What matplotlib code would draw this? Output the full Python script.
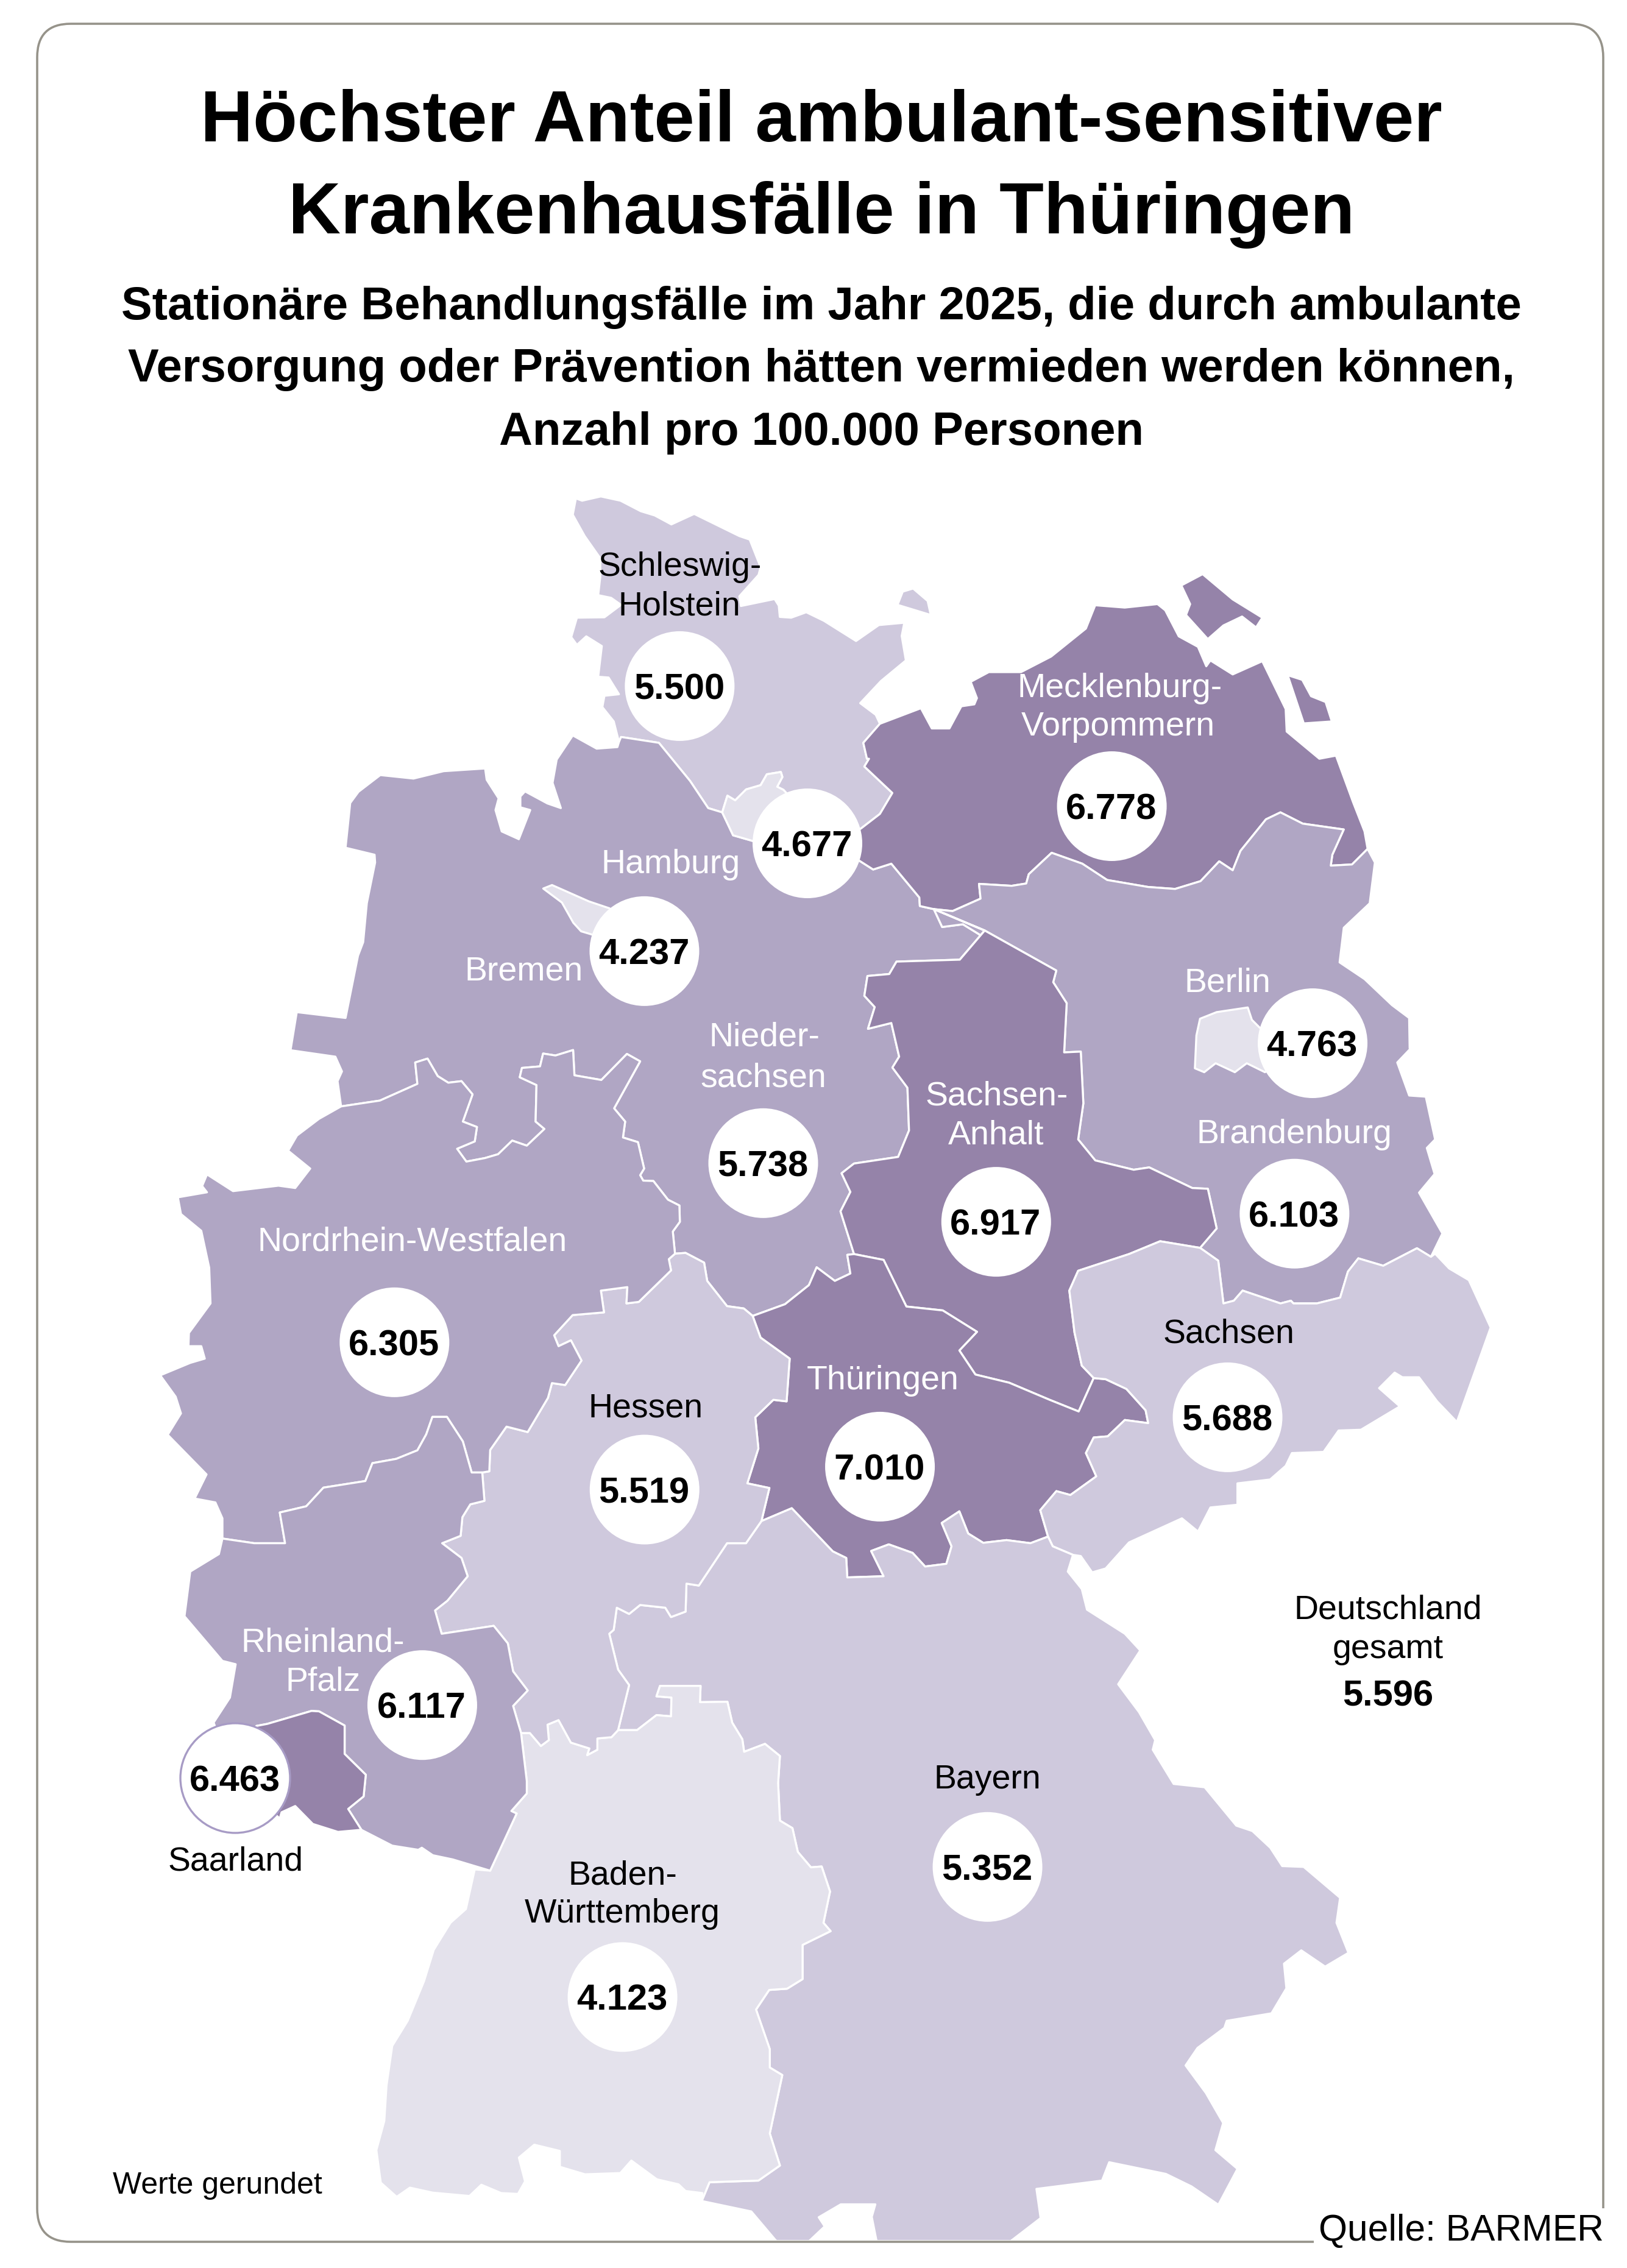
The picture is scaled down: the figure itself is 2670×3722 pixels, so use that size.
import matplotlib
matplotlib.use("Agg")
import matplotlib.pyplot as plt
from matplotlib.patches import Polygon, Circle, FancyBboxPatch, Rectangle

plt.rcParams['font.family'] = ['Liberation Sans', 'DejaVu Sans']

W, H = 2670, 3723
# measuring frames of the outline readings: origin x, origin y, scale x, scale y
FRAMES = {'A': (0, 750, 1.1745, 1.568), 'B': (1335, 750, 1.1745, 1.568),
          'C': (200, 1700, 1.3815, 1.568), 'D': (1135, 1700, 1.1745, 1.568),
          'E': (200, 2650, 1.3815, 1.461), 'F': (1135, 2650, 1.0215, 1.461)}

def P(frame, pts):
    ox, oy, sx, sy = FRAMES[frame]
    return [(ox + x / sx, oy + y / sy) for x, y in pts]

def R(chain):
    return chain[::-1]

# ---- shared state borders ----
SH_COAST = P('A', [(1193,735),(1183,682),(1161,645),(1165,616),(1193,612),(1173,569),(1153,567),(1160,488),(1130,463),(1112,485),(1101,465),(1112,415),(1165,414),(1197,382),(1178,364),(1153,357),(1157,310),(1157,262),(1127,205),(1104,150),(1110,108),(1122,114),(1158,103),(1196,114),(1235,141),(1262,152),(1294,175),(1338,148),(1425,205),(1445,214),(1466,285),(1462,305),(1425,360),(1428,385),(1493,367),(1501,384),(1503,413),(1525,415),(1554,401)]) + \
    P('B', [(20,423),(82,475),(126,434),(175,428),(170,462),(178,525),(130,578),(90,635),(120,665),(128,688)])
SH_MV = P('B', [(128,688),(96,737),(103,778),(107,778),(98,798),(152,866),(128,920),(92,957),(40,1000)])
HAM_SH = P('A', [(1392,916),(1402,873),(1417,885),(1438,857),(1466,846),(1478,818),(1505,812),(1508,825),(1498,850),(1510,858)]) + P('B', [(40,1000)])
HAM_NI = P('A', [(1392,916),(1413,975),(1452,990)]) + P('B', [(40,1000)])
NI_SH = P('A', [(1193,735),(1197,722),(1270,737),(1330,835),(1365,905),(1392,916)])
NI_COAST = P('A', [(1193,735),(1190,748),(1150,752),(1104,718),(1073,780),(1065,840),(1081,905),(1055,893),(1012,862),(1003,875),(1003,903),(1022,910),(1000,985),(967,965),(955,910),(961,880),(938,832),(935,803),(855,810),(797,829),(733,820),(691,863),(675,892),(666,1007),(722,1025),(723,1045),(707,1150),(700,1250),(690,1285),(666,1445),(572,1430),(560,1528)]) + \
    P('C', [(484,55),(499,93),(489,118),(497,183)])
NI_NW = P('C', [(497,183),(585,168),(670,125),(665,70),(693,60),(716,105),(740,122),(770,118),(795,152),(773,222),(805,236),(800,273),(760,292),(781,325),(823,316),(853,306),(885,271),(918,284),(958,241),(938,222),(940,128),(902,108),(907,84),(948,80),(955,47),(983,52),(1023,38),(1026,103),(1087,115),(1145,48),(1175,67),(1116,188),(1141,222),(1136,263),(1170,275),(1184,343),(1175,360),(1182,374),(1205,375),(1238,423),(1264,438),(1265,480),(1249,505),(1254,562)])
NI_HE = P('C', [(1254,562),(1278,560),(1320,585),(1327,632),(1372,697),(1410,703),(1430,722)])
NI_TH = P('D', [(118,722),(180,692),(226,643),(241,597),(276,632),(306,613),(300,565),(313,563)])
ST_NI = P('D', [(313,563),(287,453),(306,403),(289,355),(313,330),(398,313),(419,245),(416,135),(387,83),(400,55)]) + \
    P('B', [(150,1458),(105,1473),(118,1417),(98,1388),(104,1337),(146,1332),(160,1300),(282,1295),(330,1220)])
NI_BB = P('B', [(330,1220),(322,1232),(288,1204),(248,1211),(232,1165)])
NI_MV = P('B', [(232,1165),(205,1157),(204,1135),(150,1048),(115,1063),(88,1040),(40,1000)])
BB_MV = P('B', [(232,1165),(268,1170),(322,1138),(319,1100),(382,1105),(410,1099),(415,1075),(459,1020),(518,1048),(566,1090),(645,1108),(697,1113),(746,1093),(782,1042),(808,1065),(823,1015),(872,934),(900,916),(943,945),(1022,960),(1000,1025),(997,1053),(1038,1050),(1068,1010)])
MV_COAST = P('B', [(128,688),(207,648),(228,700),(262,700),(285,643),(310,638),(315,622),(303,580),(338,555),(400,555),(458,515),(525,443),(543,383),(600,389),(663,380),(678,396),(704,463),(741,490),(757,540),(765,525),(808,561),(865,527),(910,650),(912,708),(975,778),(1007,770),(1040,890),(1062,965),(1068,1010)])
BB_EAST = P('B', [(1068,1010),(1082,1045),(1072,1150),(1022,1213),(1014,1302),(1062,1345),(1115,1412),(1148,1445),(1149,1523)]) + \
    P('D', [(1385,35),(1360,70),(1383,155),(1415,158),(1433,268),(1417,290),(1432,357),(1402,405),(1447,510),(1425,570)])
BB_SN = P('D', [(1425,570),(1398,548),(1333,593),(1285,574),(1265,608),(1250,675),(1205,690),(1160,690),(1155,683),(1135,690),(1062,657),(1045,683),(1025,690),(1015,580),(980,547)])
ST_BB = P('D', [(980,547),(1012,497),(995,395),(965,393),(882,340),(852,346),(778,322),(745,268),(755,175),(750,42),(718,44)]) + \
    P('B', [(488,1407),(462,1353),(468,1323),(330,1220)])
ST_TH = P('D', [(313,563),(370,578),(414,698),(484,708),(550,763),(516,811),(547,873),(612,894),(690,938),(746,968),(775,882)])
ST_SN = P('D', [(775,882),(752,850),(738,765),(728,657),(745,606),(843,563),(903,530),(980,547)])
HE_TH = P('C', [(1430,722),(1448,778),(1514,832),(1507,942),(1477,938),(1436,983),(1443,1063),(1418,1153),(1468,1165),(1450,1250)])
TH_BY = P('C', [(1450,1250)]) + P('D', [(193,1217),(272,1328),(298,1345),(300,1395),(370,1392),(346,1327),(380,1310),(426,1332),(450,1367),(491,1360),(501,1315),(482,1255),(516,1225),(533,1282),(562,1306),(607,1299),(653,1307),(687,1290)])
TH_SN = P('D', [(775,882),(798,885),(838,910),(875,965),(880,998),(835,990),(802,1032),(775,1035),(760,1075),(780,1135),(730,1183),(703,1173),(672,1222),(687,1290)])
SN_BY = P('D', [(687,1290),(696,1315),(735,1337)])
SN_OUTER = P('D', [(1425,570),(1433,562),(1460,600),(1498,630),(1540,752),(1475,995),(1437,942),(1402,880),(1370,880),(1355,868),(1325,908),(1365,955),(1290,1015),(1247,1017),(1218,1072),(1157,1075),(1145,1108),(1115,1143),(1052,1153),(1052,1208),(1000,1215),(976,1277),(945,1243),(843,1305),(798,1372),(772,1382),(750,1340),(735,1337)])
BY_OUTER = P('D', [(735,1337),(725,1380),(752,1425),(762,1478),(835,1540)]) + \
    P('F', [(752,87),(715,168),(750,235),(777,302),(773,325),(808,407),(860,415),(913,507),(940,520),(970,560),(990,604),(1026,606),(1087,680),(1081,740),(1101,812),(1062,845),(1022,806),(993,838),(997,897),(972,957),(897,975),(893,992),(848,1040),(828,1082),(862,1148),(891,1220),(878,1285),(915,1330),(883,1416),(838,1372),(795,1342),(700,1314),(688,1358),(578,1378),(585,1448),(535,1503),(310,1503),(302,1445),(308,1415),(250,1415),(213,1446),(223,1468),(197,1503),(142,1503),(100,1432),(17,1407)])
BW_BY = P('F', [(17,1407),(30,1362),(112,1358),(148,1322),(131,1245),(152,1105),(131,1087),(131,1043),(108,948),(130,901),(160,898),(186,875),(186,793),(233,760),(221,740),(232,665),(218,605),(200,607),(178,570),(169,513),(148,495),(145,405),(148,340),(123,311),(88,330),(85,300),(68,260),(60,210),(14,211),(15,172)]) + \
    P('E', [(1220,172),(1212,197),(1246,200),(1245,245),(1212,242),(1168,278),(1125,278)])
HE_BY = P('C', [(1450,1250),(1415,1307),(1372,1307),(1308,1416),(1280,1411),(1278,1483),(1245,1497),(1232,1473),(1175,1466),(1150,1489),(1122,1473),(1115,1530),(1105,1540)]) + \
    P('E', [(1125,133),(1150,170),(1125,278)])
HE_BW = P('E', [(1125,278),(1110,295),(1078,298),(1078,325),(1055,338),(1060,322),(1018,308),(990,254),(965,265),(968,302),(950,316),(925,285),(905,285)])
RP_BW = P('E', [(905,285),(918,400),(918,430),(883,472),(895,478),(835,615)])
BW_OUTER = P('E', [(835,615),(800,612),(780,707),(745,740),(707,805),(685,880),(648,975),(613,1035),(600,1130),(595,1215),(577,1285),(587,1363),(623,1397),(653,1375),(705,1387),(788,1395),(815,1368),(860,1388),(898,1390),(914,1360),(900,1303),(935,1272),(993,1287),(993,1325),(1050,1343),(1130,1340),(1155,1310),(1213,1355),(1262,1367),(1278,1383),(1316,1388)])
HE_RP = P('E', [(905,285),(887,220),(920,183),(887,137),(875,70),(843,28),(725,47)]) + \
    P('C', [(710,1480),(738,1455),(784,1392),(770,1345),(726,1307),(768,1288),(772,1240),(790,1207),(822,1198),(817,1125)])
NW_HE = P('C', [(817,1125),(833,1122),(835,1067),(872,1007),(920,1021),(966,933),(975,895),(1005,900),(1042,837),(1018,785),(990,800),(980,772),(1022,720),(1093,713),(1086,657),(1146,648),(1144,690),(1172,686),(1245,605),(1240,576),(1254,562)])
NW_WEST = P('C', [(497,183),(447,215),(397,258),(377,297),(427,343),(393,393),(355,387),(252,401),(193,358),(182,388),(193,404),(127,417),(134,460),(180,503),(198,598),(201,690),(152,766),(151,800),(180,800),(188,832),(155,843),(87,875),(122,930),(134,973),(104,1028),(192,1130),(165,1192),(212,1202),(228,1243),(228,1295)])
NW_RP = P('C', [(228,1295),(300,1307),(370,1307),(358,1228),(418,1212),(457,1164),(552,1147),(568,1101),(622,1090),(670,1068),(690,1027),(704,982),(737,982),(773,1045),(793,1125),(817,1125)])
RP_SOUTH = P('E', [(835,615),(750,588),(705,578),(680,560),(672,565),(613,555),(543,517)])
RP_SL = P('E', [(305,268),(330,263),(430,232),(447,233),(505,267),(505,335),(553,385),(548,437),(513,467),(543,517)])
RP_WEST = P('E', [(305,268),(257,393),(208,260),(245,200),(258,120),(228,112),(142,5)]) + P('C', [(155,1380),(220,1335),(228,1295)])
SL_SOUTH = P('E', [(543,517),(490,522),(433,503),(393,460),(362,475),(358,490),(257,393)])
FEHMARN = P('B', [(162,382),(172,348),(192,340),(220,372),(226,408)])
RUEGEN = P('B', [(709,332),(750,303),(808,368),(865,415),(853,440),(826,412),(790,435),(760,470),(718,408),(726,380)])
USEDOM = P('B', [(914,563),(942,575),(959,617),(987,632),(999,682),(945,687)])
BREMEN = P('A', [(1047,1112),(1064,1103),(1135,1145),(1175,1163),(1242,1273),(1140,1230),(1120,1222),(1105,1200),(1083,1148)])
BERLIN = P('B', [(745,1447),(777,1430),(837,1418),(845,1450),(860,1470),(962,1510)]) + \
    P('D', [(1105,95),(1070,72),(1047,95),(1010,72),(988,95),(970,85)]) + P('B', [(738,1490)])

# ---- state shapes ----
SHAPES = {
    'SH': [SH_COAST + SH_MV + R(HAM_SH) + R(NI_SH), FEHMARN],
    'NI': [NI_COAST + NI_NW + NI_HE + NI_TH + ST_NI + NI_BB + NI_MV + R(HAM_NI) + R(NI_SH)],
    'MV': [MV_COAST + R(BB_MV) + NI_MV + R(SH_MV), RUEGEN, USEDOM],
    'BB': [BB_MV + BB_EAST + BB_SN + ST_BB + R(NI_BB)],
    'ST': [ST_TH + ST_SN + ST_BB + R(ST_NI)],
    'TH': [NI_TH + ST_TH + TH_SN + R(TH_BY) + R(HE_TH)],
    'SN': [ST_SN + R(BB_SN) + SN_OUTER + R(SN_BY) + R(TH_SN)],
    'BY': [R(HE_BY) + TH_BY + SN_BY + BY_OUTER + BW_BY],
    'BW': [HE_BW + RP_BW + BW_OUTER + BW_BY],
    'HE': [NI_HE + HE_TH + HE_BY + HE_BW + HE_RP + NW_HE],
    'NW': [NI_NW + R(NW_HE) + R(NW_RP) + R(NW_WEST)],
    'RP': [NW_RP + R(HE_RP) + RP_BW + RP_SOUTH + R(RP_SL) + RP_WEST],
    'SL': [RP_SL + SL_SOUTH],
    'HH': [HAM_SH + R(HAM_NI)],
    'HB': [BREMEN],
    'BE': [BERLIN],
}

# ---- data ----
STATES = ['SH','NI','MV','BB','ST','TH','SN','BY','BW','HE','NW','RP','SL','HH','HB','BE']
VALUES = ['5.500','5.738','6.778','6.103','6.917','7.010','5.688','5.352','4.123','5.519','6.305','6.117','6.463','4.677','4.237','4.763']
C_LIGHTEST, C_LIGHT, C_MID, C_DARK = '#E4E2EC', '#CFC9DD', '#B0A6C4', '#9583A9'
FILLS = {'SH':C_LIGHT,'NI':C_MID,'MV':C_DARK,'BB':C_MID,'ST':C_DARK,'TH':C_DARK,'SN':C_LIGHT,'BY':C_LIGHT,
         'BW':C_LIGHTEST,'HE':C_LIGHT,'NW':C_MID,'RP':C_MID,'SL':C_DARK,'HH':C_LIGHTEST,'HB':C_LIGHTEST,'BE':C_LIGHTEST}
BUBBLES = {'SH':P('A',[(1310,591)]),'NI':P('D',[(138,329)]),'MV':P('B',[(575,900)]),'BB':P('D',[(1162,459)]),
           'ST':P('D',[(587,480)]),'TH':P('D',[(363,1110)]),'SN':P('D',[(1033,983)]),'BY':P('F',[(496,606)]),
           'BW':P('E',[(1135,918)]),'HE':P('C',[(1185,1169)]),'NW':P('C',[(618,790)]),'RP':P('E',[(681,218)]),
           'SL':P('E',[(257,393)]),'HH':[(1325,1385)],'HB':P('A',[(1242,1273)]),'BE':P('B',[(962,1510)])}
WHITE_LABELS = [('Hamburg','A',1293,1043),('Bremen','A',1010,1318),('Mecklenburg-','B',590,590),('Vorpommern','B',587,688),
                ('Berlin','B',798,1347),('Nieder-','D',140,-3),('sachsen','D',138,103),('Sachsen-','D',588,150),('Anhalt','D',587,250),
                ('Brandenburg','D',1162,248),('Nordrhein-Westfalen','C',658,525),('Thüringen','D',369,882),
                ('Rheinland-','E',456,62),('Pfalz','E',456,155)]
BLACK_LABELS = [('Schleswig-','A',1310,278),('Holstein','A',1310,378),('Hessen','C',1188,953),('Sachsen','D',1035,762),
                ('Saarland','E',258,587),('Baden-','E',1135,620),('Württemberg','E',1135,712),('Bayern','F',496,390),
                ('Deutschland','D',1342,1472),('gesamt','F',1167,78)]
TITLE_LINES = ['Höchster Anteil ambulant-sensitiver', 'Krankenhausfälle in Thüringen']
SUB_LINES = ['Stationäre Behandlungsfälle im Jahr 2025, die durch ambulante',
             'Versorgung oder Prävention hätten vermieden werden können,',
             'Anzahl pro 100.000 Personen']
NATIONAL = '5.596'

# ---- drawing ----
fig = plt.figure(figsize=(W/100, H/100), dpi=100, facecolor='white')
ax = fig.add_axes([0, 0, 1, 1])
ax.set_xlim(0, W); ax.set_ylim(H, 0); ax.axis('off')

FR_L, FR_R, FR_T, FR_B, RAD = 61, 2631, 40, 3680, 55
ax.add_patch(FancyBboxPatch((FR_L+RAD, FR_T+RAD), FR_R-FR_L-2*RAD, FR_B-FR_T-2*RAD,
                            boxstyle=f'round,pad={RAD},rounding_size={RAD}', fc='none', ec='#96938A', lw=2.6, zorder=5))

for s in STATES:
    for poly in SHAPES[s]:
        ax.add_patch(Polygon(poly, closed=True, fc=FILLS[s], ec='white', lw=2.4, joinstyle='round', zorder=2))

for s, v in zip(STATES, VALUES):
    (cx, cy) = BUBBLES[s][0]
    if s == 'SL':
        ax.add_patch(Circle((cx, cy), 90, fc='white', ec='#A79BC5', lw=2.4, zorder=3))
    else:
        ax.add_patch(Circle((cx, cy), 90, fc='white', ec='none', zorder=3))
    ax.text(cx - 1, cy + 5, v, ha='center', va='center', fontsize=43, fontweight='bold', color='black', zorder=6)

for labels, col in ((WHITE_LABELS, 'white'), (BLACK_LABELS, 'black')):
    for txt, fr, x, y in labels:
        (fx, fy) = P(fr, [(x, y)])[0]
        ax.text(fx, fy + 4, txt, ha='center', va='center', fontsize=40, color=col, zorder=6)

(nx, ny) = P('F', [(1167, 188)])[0]
ax.text(nx, ny + 5, NATIONAL, ha='center', va='center', fontsize=43, fontweight='bold', zorder=6)

for line, y in zip(TITLE_LINES, (201, 353)):
    ax.text(1348, y, line, ha='center', va='center', fontsize=85.9, fontweight='bold', zorder=6)
for line, y in zip(SUB_LINES, (505, 607, 710)):
    ax.text(1348, y, line, ha='center', va='center', fontsize=54.8, fontweight='bold', zorder=6)

ax.text(185, 3587, 'Werte gerundet', ha='left', va='center', fontsize=36, zorder=6)
ax.add_patch(Rectangle((2156, 3625), 520, 98, fc='white', ec='none', zorder=5.5))
ax.text(2632, 3662, 'Quelle: BARMER', ha='right', va='center', fontsize=43.6, zorder=6)

fig.savefig('out.png', dpi=100)
